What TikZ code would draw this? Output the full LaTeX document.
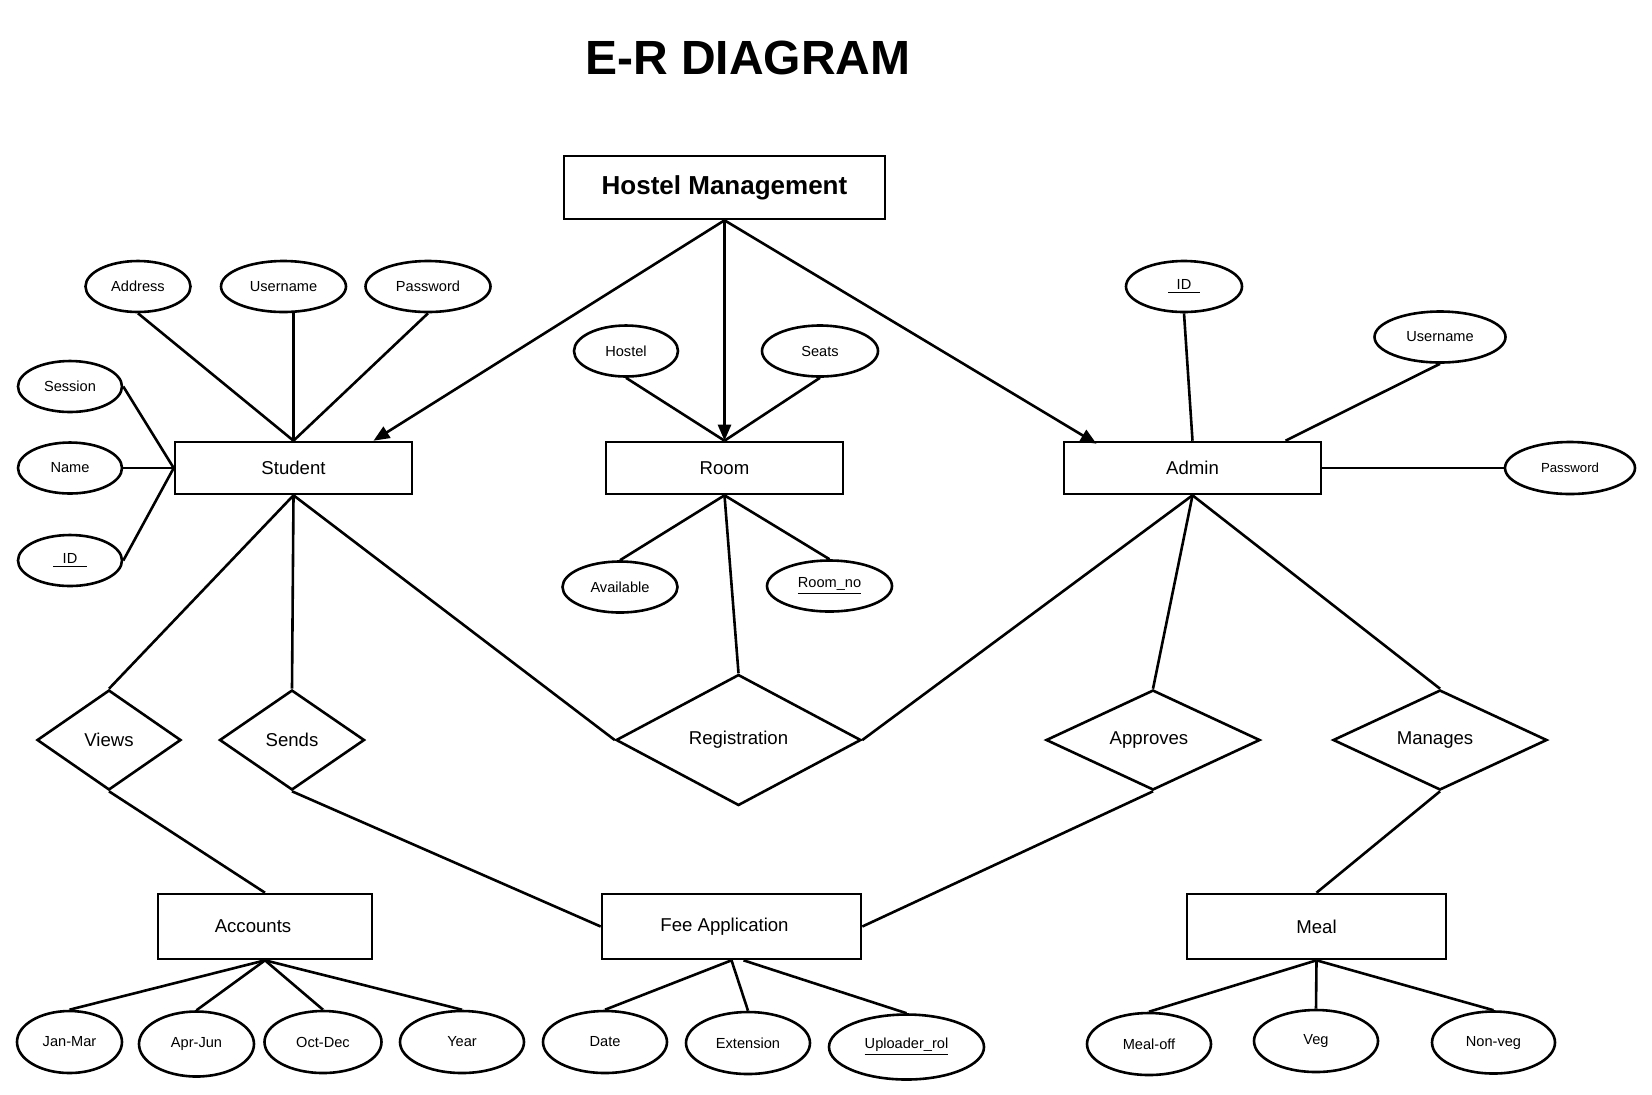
\documentclass[tikz,border=0pt]{standalone}
\usepackage{fontspec}
\setmainfont{Liberation Sans}
\usetikzlibrary{shapes.geometric,arrows.meta}
\newcommand{\keyattr}[1]{\underline{#1}}

\begin{document}
\begin{tikzpicture}[x=0.5pt,y=-0.5pt,line width=1.3pt,
  entity/.style={draw,rectangle,inner sep=0pt,minimum width=#1,minimum height=26pt,font=\fontsize{9.3}{11}\selectfont},
  rel/.style={draw,diamond,inner sep=0pt,minimum width=#1,minimum height=50pt,font=\fontsize{9.3}{11}\selectfont},
  attr/.style={draw,ellipse,inner sep=0pt,minimum width=#1,minimum height=25.5pt,font=\fontsize{7.3}{9}\selectfont},
  subattr/.style={attr=#1,minimum height=31pt},
  isa/.style={-{Triangle[length=8pt,width=6.5pt]}}]
\useasboundingbox (0,0) rectangle (1652,1094);

\node[font=\fontsize{24}{28}\selectfont\bfseries] (title) at (748,58) {E-R DIAGRAM};

% entities
\node[entity=160.5pt,minimum height=31.5pt,font=\fontsize{13}{15}\selectfont\bfseries] (hm) at (724.5,187.5) {Hostel Management};
\node[entity=118.5pt] (stu) at (293.5,468) {Student};
\node[entity=118.5pt] (room) at (724.5,468) {Room};
\node[entity=128.5pt] (adm) at (1192.5,468) {Admin};
\node[entity=107pt,minimum height=32.5pt] (acc) at (265,926.5) {\hspace*{-12pt}Accounts};
\node[entity=129.5pt,minimum height=32.5pt] (fee) at (731.5,926.5) {\hspace*{-7pt}Fee Application};
\node[entity=129.5pt,minimum height=32.5pt] (meal) at (1316.5,926.5) {Meal};

% relations
\node[rel=72pt] (views) at (109,740) {Views};
\node[rel=72.5pt] (sends) at (292,740) {Sends};
\node[rel=122.5pt,minimum height=65.5pt] (reg) at (738.5,740) {Registration};
\node[rel=107pt] (appr) at (1153,740) {\hspace*{-4pt}Approves};
\node[rel=107pt] (mng) at (1440,740) {\hspace*{-5pt}Manages};

% attributes
\node[attr=52.5pt] (saddr) at (138,286.5) {Address};
\node[attr=62.5pt] (suser) at (283.5,286.5) {Username};
\node[attr=62.5pt] (spass) at (428,286.5) {Password};
\node[attr=52pt] (ssess) at (70,386.5) {Session};
\node[attr=52pt] (sname) at (70,468) {Name};
\node[attr=52pt] (sid) at (70,560.5) {\keyattr{\makebox[17pt]{ID}}};
\node[attr=52pt] (rhostel) at (626,351) {Hostel};
\node[attr=58pt] (rseats) at (820,351) {Seats};
\node[attr=57.5pt] (ravail) at (620,587) {Available};
\node[attr=62.5pt] (rno) at (829.5,586) {\keyattr{Room\_no}};
\node[attr=58pt] (aid) at (1184,286.5) {\keyattr{\makebox[16pt]{ID}}};
\node[attr=65.5pt] (auser) at (1440,337) {Username};
\node[attr=65pt,minimum height=26pt,font=\fontsize{6.6}{8}\selectfont] (apass) at (1570,468) {Password};

\node[subattr=52.5pt] (jm) at (69.5,1042) {Jan-Mar};
\node[subattr=57.5pt,minimum height=32.5pt] (aj) at (196.5,1044) {Apr-Jun};
\node[subattr=58.5pt] (od) at (323,1042) {Oct-Dec};
\node[subattr=62pt] (yr) at (462,1042) {Year};
\node[subattr=62pt] (date) at (605,1042) {Date};
\node[subattr=62pt] (ext) at (748,1043) {Extension};
\node[subattr=77.5pt,minimum height=32.5pt] (upl) at (906.5,1047) {\keyattr{Uploader\_rol}};
\node[subattr=62pt] (moff) at (1149,1044) {Meal-off};
\node[subattr=62pt] (veg) at (1316,1041) {Veg};
\node[subattr=61.5pt] (nveg) at (1493.5,1042.5) {Non-veg};

% connectors
\draw[isa] (hm.south) -- ([xshift=40pt]stu.north);
\draw[isa] (hm.south) -- (room.north);
\draw[isa] (hm.south) -- ([xshift=-48pt,yshift=-1.5pt]adm.north);

\draw (saddr.south) -- (stu.north);
\draw (stu.north |- suser.south) -- (stu.north);
\draw (spass.south) -- (stu.north);
\draw (ssess.east) -- (stu.west);
\draw (sname.east) -- (stu.west);
\draw (sid.east) -- (stu.west);
\draw (stu.south) -- (views.north);
\draw (stu.south) -- (sends.north);
\draw (stu.south) -- (reg.west);

\draw (rhostel.south) -- (room.north);
\draw (rseats.south) -- (room.north);
\draw (room.south) -- (ravail.north);
\draw (room.south) -- (rno.north);
\draw (room.south) -- (reg.north);

\draw (aid.south) -- (adm.north);
\draw (auser.south) -- ([xshift=46.5pt]adm.north);
\draw (apass.west) -- (adm.east);
\draw (adm.south) -- (reg.east);
\draw (adm.south) -- (appr.north);
\draw (adm.south) -- (mng.north);

\draw (views.south) -- (acc.north);
\draw (sends.south) -- (fee.west);
\draw (appr.south) -- (fee.east);
\draw (mng.south) -- (meal.north);

\draw (acc.south) -- (jm.north);
\draw (acc.south) -- (aj.north);
\draw (acc.south) -- (od.north);
\draw (acc.south) -- (yr.north);
\draw (fee.south) -- (date.north);
\draw (fee.south) -- (ext.north);
\draw ([xshift=6pt]fee.south) -- (upl.north);
\draw (meal.south) -- (moff.north);
\draw (meal.south) -- (veg.north);
\draw (meal.south) -- (nveg.north);
\end{tikzpicture}
\end{document}
